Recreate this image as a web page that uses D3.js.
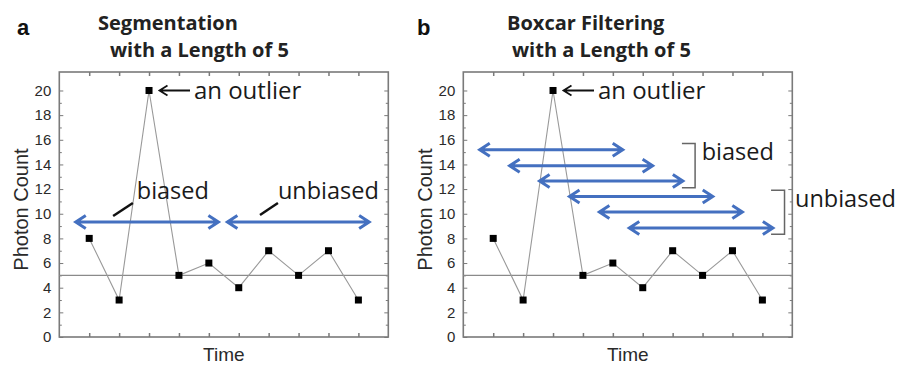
<!DOCTYPE html>
<html><head><meta charset="utf-8">
<script src="https://cdn.jsdelivr.net/npm/d3@7"></script>
<style>body{margin:0;background:#fff}svg{display:block}</style>
</head><body>
<svg id="c" width="897" height="366"></svg>
<script>
// ---- data ----
const timePoints = [1,2,3,4,5,6,7,8,9,10];
const photonCounts = [8,3,20,5,6,4,7,5,7,3];
const yTickValues = [0,2,4,6,8,10,12,14,16,18,20];
const threshold = 5;
// panel a: segmentation windows
const segStart = [0.55, 5.62];
const segEnd = [5.32, 10.36];
const segY = [9.33, 9.33];
// panel b: boxcar windows
const boxStart = [0.55, 1.55, 2.55, 3.55, 4.55, 5.55];
const boxEnd = [5.33, 6.33, 7.34, 8.34, 9.33, 10.35];
const boxY = [15.2, 13.9, 12.65, 11.4, 10.15, 8.85];
const panelLetters = ["a", "b"];
const titleLine1 = ["Segmentation", "Boxcar Filtering"];
const titleLine2 = ["with a Length of 5", "with a Length of 5"];

const svg = d3.select("#c");
const blue = "#4470c0";
const frameCol = "#7a7a7a";
const W = 329, plotTop = 72, plotBottom = 337;
const panels = [{x0: 59.3, tx1: 98, tx2: 110, lx: 17}, {x0: 463.3, tx1: 507, tx2: 512, lx: 417}];

function arrowPath(x1, x2, yy, L, H) {
  return `M${x1},${yy}L${x2},${yy}` +
    `M${x1+L},${yy-H}L${x1},${yy}L${x1+L},${yy+H}` +
    `M${x2-L},${yy-H}L${x2},${yy}L${x2-L},${yy+H}`;
}

panels.forEach((p, pi) => {
  const x = d3.scaleLinear().domain([0, 11]).range([p.x0, p.x0 + W]);
  const y = d3.scaleLinear().domain([0, 21.5]).range([plotBottom, plotTop]);
  const g = svg.append("g");

  // letter + titles
  g.append("text").attr("x", p.lx).attr("y", 35).text(panelLetters[pi])
    .attr("font-family", "Liberation Sans, Arial, sans-serif").attr("font-weight", "bold")
    .attr("font-size", 22).attr("fill", "#111");
  g.append("text").attr("x", p.tx1).attr("y", 29.5).text(titleLine1[pi])
    .attr("font-family", "Open Sans, sans-serif").attr("font-weight", "bold")
    .attr("font-size", 20).attr("fill", "#222");
  g.append("text").attr("x", p.tx2).attr("y", 57).text(titleLine2[pi])
    .attr("font-family", "Open Sans, sans-serif").attr("font-weight", "bold")
    .attr("font-size", 20).attr("fill", "#222");

  // axes with inward ticks
  const minor = d3.range(1, 21, 2);
  const axL = d3.axisLeft(y).tickValues(yTickValues).tickSize(-4).tickPadding(8);
  const gl = g.append("g").attr("transform", `translate(${x(0)},0)`).call(axL);
  gl.selectAll("text").attr("font-family", "Liberation Sans, Arial, sans-serif").attr("font-size", 15).attr("fill", "#2a2a2a");
  gl.selectAll("line").attr("stroke", frameCol);
  gl.select(".domain").remove();
  g.append("g").attr("transform", `translate(${x(0)},0)`)
    .call(d3.axisLeft(y).tickValues(minor).tickSize(-2.5).tickFormat(""))
    .call(s => { s.select(".domain").remove(); s.selectAll("line").attr("stroke", frameCol); });
  g.append("g").attr("transform", `translate(${x(11)},0)`)
    .call(d3.axisRight(y).tickValues(yTickValues).tickSize(-4).tickFormat(""))
    .call(s => { s.select(".domain").remove(); s.selectAll("line").attr("stroke", frameCol); });
  g.append("g").attr("transform", `translate(${x(11)},0)`)
    .call(d3.axisRight(y).tickValues(minor).tickSize(-2.5).tickFormat(""))
    .call(s => { s.select(".domain").remove(); s.selectAll("line").attr("stroke", frameCol); });
  g.append("g").attr("transform", `translate(0,${y(0)})`)
    .call(d3.axisBottom(x).tickValues(timePoints).tickSize(-4).tickFormat(""))
    .call(s => { s.select(".domain").remove(); s.selectAll("line").attr("stroke", frameCol).attr("stroke-width", 1.5); });
  g.append("g").attr("transform", `translate(0,${plotTop})`)
    .call(d3.axisTop(x).tickValues(timePoints).tickSize(-4).tickFormat(""))
    .call(s => { s.select(".domain").remove(); s.selectAll("line").attr("stroke", frameCol).attr("stroke-width", 1.5); });

  // frame
  g.append("rect").attr("x", x(0)).attr("y", plotTop).attr("width", x(11) - x(0)).attr("height", plotBottom - plotTop)
    .attr("fill", "none").attr("stroke", frameCol).attr("stroke-width", 1.6);

  // threshold line
  g.append("line").attr("x1", x(0)).attr("x2", x(11)).attr("y1", y(threshold)).attr("y2", y(threshold))
    .attr("stroke", "#8a8a8a").attr("stroke-width", 1.3);

  // data line + markers
  const line = d3.line().x((d, i) => x(timePoints[i])).y(d => y(d));
  g.append("path").attr("d", line(photonCounts)).attr("fill", "none").attr("stroke", "#999").attr("stroke-width", 1.1);
  g.selectAll("rect.pt").data(photonCounts).join("rect").attr("class", "pt")
    .attr("x", (d, i) => x(timePoints[i]) - 3.5).attr("y", d => y(d) - 3.5)
    .attr("width", 7).attr("height", 7).attr("fill", "#000");

  // outlier annotation
  g.append("path").attr("d", `M${x(4.37)},${y(20)}L${x(3.35)},${y(20)}M${x(3.35)+8},${y(20)-5}L${x(3.35)},${y(20)}L${x(3.35)+8},${y(20)+5}`)
    .attr("fill", "none").attr("stroke", "#111").attr("stroke-width", 1.8);
  g.append("text").attr("x", x(4.5)).attr("y", y(19.3)).text("an outlier")
    .attr("font-family", "Open Sans, sans-serif").attr("font-size", 24).attr("fill", "#1a1a1a");

  // axis labels
  g.append("text").attr("transform", `translate(${x(0) - 31},${(plotTop + plotBottom) / 2 + 5}) rotate(-90)`)
    .attr("text-anchor", "middle").text("Photon Count")
    .attr("font-family", "Liberation Sans, Arial, sans-serif").attr("font-size", 20).attr("fill", "#2a2a2a");
  g.append("text").attr("x", (x(0) + x(11)) / 2).attr("y", 361).attr("text-anchor", "middle").text("Time")
    .attr("font-family", "Liberation Sans, Arial, sans-serif").attr("font-size", 19).attr("fill", "#2a2a2a");

  if (pi === 0) {
    segStart.forEach((s, i) => {
      g.append("path").attr("d", arrowPath(x(s), x(segEnd[i]), y(segY[i]), 10, 6.5))
        .attr("fill", "none").attr("stroke", blue).attr("stroke-width", 3);
    });
    g.append("line").attr("x1", x(1.8)).attr("y1", y(9.82)).attr("x2", x(2.46)).attr("y2", y(10.87))
      .attr("stroke", "#111").attr("stroke-width", 2.5);
    g.append("line").attr("x1", x(6.71)).attr("y1", y(9.9)).attr("x2", x(7.31)).attr("y2", y(10.87))
      .attr("stroke", "#111").attr("stroke-width", 2.5);
    g.append("text").attr("x", x(2.59)).attr("y", y(11.2)).text("biased")
      .attr("font-family", "Open Sans, sans-serif").attr("font-size", 23.5).attr("fill", "#1a1a1a");
    g.append("text").attr("x", x(7.31)).attr("y", y(11.2)).text("unbiased")
      .attr("font-family", "Open Sans, sans-serif").attr("font-size", 23.5).attr("fill", "#1a1a1a");
  } else {
    boxStart.forEach((s, i) => {
      g.append("path").attr("d", arrowPath(x(s), x(boxEnd[i]), y(boxY[i]), 10, 6.5))
        .attr("fill", "none").attr("stroke", blue).attr("stroke-width", 3);
    });
    const bracket = (xa, xb, y1, y2) => `M${x(xa)},${y(y1)}L${x(xb)},${y(y1)}L${x(xb)},${y(y2)}L${x(xa)},${y(y2)}`;
    g.append("path").attr("d", bracket(7.31, 7.75, 15.7, 12.1)).attr("fill", "none").attr("stroke", "#666").attr("stroke-width", 1.5);
    g.append("path").attr("d", bracket(10.29, 10.74, 11.9, 8.34)).attr("fill", "none").attr("stroke", "#666").attr("stroke-width", 1.5);
    g.append("text").attr("x", x(7.97)).attr("y", y(14.4)).text("biased")
      .attr("font-family", "Open Sans, sans-serif").attr("font-size", 23.5).attr("fill", "#1a1a1a");
    g.append("text").attr("x", x(11.09)).attr("y", y(10.57)).text("unbiased")
      .attr("font-family", "Open Sans, sans-serif").attr("font-size", 23.5).attr("fill", "#1a1a1a");
  }
});
</script>
</body></html>
